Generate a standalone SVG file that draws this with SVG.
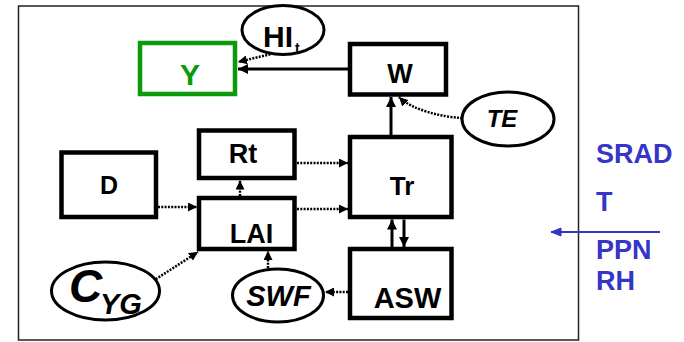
<svg xmlns="http://www.w3.org/2000/svg" width="684" height="342" viewBox="0 0 684 342">
<style>
.box{fill:#fff;stroke:#000;stroke-width:4.5}
.ell{fill:#fff;stroke:#000;stroke-width:3}
.t{font-family:"Liberation Sans",Arial,sans-serif;font-weight:bold;fill:#000}
.b{fill:#3535c8}
.solid{stroke:#000;stroke-width:3;fill:none}
.dot{stroke:#000;stroke-width:2.5;stroke-dasharray:2 1.3;fill:none}
</style>
<defs>
<marker id="ah" markerUnits="userSpaceOnUse" viewBox="0 0 10 10" refX="10" refY="5" markerWidth="11" markerHeight="10" orient="auto"><path d="M0,0 L10,5 L0,10 z" fill="#000"/></marker>
<marker id="ahs" markerUnits="userSpaceOnUse" viewBox="0 0 10 10" refX="10" refY="5" markerWidth="9" markerHeight="9" orient="auto"><path d="M0,0 L10,5 L0,10 z" fill="#000"/></marker>
<marker id="ahb" markerUnits="userSpaceOnUse" viewBox="0 0 10 10" refX="10" refY="5" markerWidth="11" markerHeight="10" orient="auto"><path d="M0,1 L10,5 L0,9 z" fill="#3535c8" stroke="#3535c8" stroke-width="1"/></marker>
</defs>
<rect x="18.5" y="6" width="560" height="334" fill="#fff" stroke="#222" stroke-width="1.5"/>
<g id="connectors">
<line class="solid" x1="348" y1="69" x2="238" y2="69" marker-end="url(#ah)"/>
<line class="dot" x1="296" y1="48" x2="238" y2="62" marker-end="url(#ahs)"/>
<path class="dot" d="M462,118 C442,117 412,110 399,97" marker-end="url(#ahs)"/>
<line class="solid" x1="391" y1="135" x2="391" y2="97" marker-end="url(#ah)"/>
<line class="solid" x1="392" y1="247" x2="392" y2="219.5" marker-end="url(#ah)"/>
<line class="solid" x1="404" y1="219.5" x2="404" y2="247" marker-end="url(#ah)"/>
<line class="dot" x1="297" y1="163" x2="348" y2="163" marker-end="url(#ahs)"/>
<line class="dot" x1="297" y1="209" x2="348" y2="209" marker-end="url(#ahs)"/>
<line class="dot" x1="158" y1="207" x2="197" y2="207" marker-end="url(#ahs)"/>
<line class="dot" x1="240" y1="196" x2="240" y2="180.5" marker-end="url(#ahs)"/>
<line class="dot" x1="153" y1="281" x2="198" y2="252" marker-end="url(#ahs)"/>
<line class="dot" x1="268" y1="268" x2="268" y2="251" marker-end="url(#ahs)"/>
<line class="dot" x1="348" y1="292" x2="325" y2="292" marker-end="url(#ahs)"/>
<line x1="660" y1="232" x2="551" y2="232" stroke="#3535c8" stroke-width="2" marker-end="url(#ahb)"/>
</g>
<g id="Y"><rect x="140" y="43" width="95" height="51" fill="#fff" stroke="#0a9a0a" stroke-width="4.5"/><text class="t" x="190" y="85" font-size="30" text-anchor="middle" fill="#0a9a0a" style="fill:#0a9a0a">Y</text></g>
<g id="HIt"><ellipse class="ell" cx="283" cy="30" rx="41" ry="24.5"/><text class="t" x="263" y="46.5" font-size="30">HI</text><text class="t" x="295" y="53" font-size="14">t</text></g>
<g id="W"><rect class="box" x="350" y="44" width="96" height="50.5"/><text class="t" x="400" y="82.5" font-size="27" text-anchor="middle">W</text></g>
<g id="TE"><ellipse class="ell" cx="508" cy="119" rx="46" ry="27"/><text class="t" x="502" y="127" font-size="24" font-style="italic" text-anchor="middle">TE</text></g>
<g id="Rt"><rect class="box" x="199" y="130.5" width="95.5" height="47.5"/><text class="t" x="243" y="162.5" font-size="27" text-anchor="middle">Rt</text></g>
<g id="Tr"><rect class="box" x="350" y="137" width="101.5" height="80"/><text class="t" x="402" y="195" font-size="26" text-anchor="middle">Tr</text></g>
<g id="D"><rect class="box" x="61.5" y="152.5" width="94.5" height="64.5"/><text class="t" x="109" y="194" font-size="25" text-anchor="middle">D</text></g>
<g id="LAI"><rect class="box" x="199" y="198" width="95.5" height="51"/><text class="t" x="251.5" y="242.5" font-size="27" text-anchor="middle">LAI</text></g>
<g id="CYG"><ellipse class="ell" cx="105.5" cy="291" rx="54" ry="29"/><text class="t" x="69" y="301.5" font-size="46" font-style="italic">C</text><text class="t" x="100" y="314" font-size="29" font-style="italic">YG</text></g>
<g id="SWF"><ellipse class="ell" cx="278" cy="295.5" rx="45.5" ry="26.5"/><text class="t" x="278.5" y="306" font-size="29" font-style="italic" text-anchor="middle">SWF</text></g>
<g id="ASW"><rect class="box" x="350" y="249" width="101.5" height="69"/><text class="t" x="407.5" y="307.5" font-size="29" text-anchor="middle">ASW</text></g>
<g id="inputs">
<text class="t b" x="596" y="163" font-size="27">SRAD</text>
<text class="t b" x="596" y="211" font-size="27">T</text>
<text class="t b" x="596" y="259" font-size="27">PPN</text>
<text class="t b" x="596" y="290" font-size="27">RH</text>
</g>
</svg>
